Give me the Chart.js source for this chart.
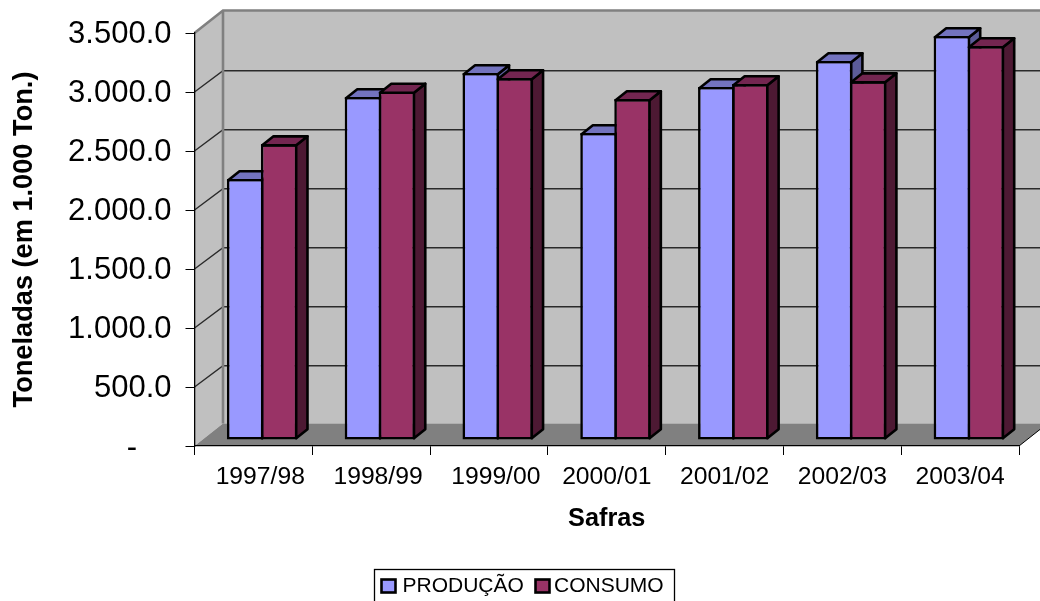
<!DOCTYPE html>
<html>
<head>
<meta charset="utf-8">
<title>Safras</title>
<style>
    html, body { margin: 0; padding: 0; background: #fff; overflow: hidden; }
    canvas { display: block; }
</style>
<script src="https://cdn.jsdelivr.net/npm/chart.js@4/dist/chart.umd.min.js"></script>
</head>
<body>
<canvas id="safrasChart" width="1040" height="601"></canvas>
<script>
(function () {
    'use strict';

    // ── Data ──────────────────────────────────────────────────────────────────
    var categories = ['1997/98', '1998/99', '1999/00', '2000/01', '2001/02', '2002/03', '2003/04'];
    var producao = [2212, 2907, 3110, 2602, 2992, 3212, 3424];
    var consumo = [2508, 2954, 3068, 2890, 3017, 3042, 3339];
    var yTickLabels = ['-    ', '500.0', '1.000.0', '1.500.0', '2.000.0', '2.500.0', '3.000.0', '3.500.0'];

    // ── Perspective of the box and of the columns ─────────────────────────────
    var FONT = '"Liberation Sans", Arial, sans-serif';
    var WALL_DX = 28.5, WALL_DY = 22.5, GRID_DY = 21.3;
    var BAR_SHIFT_X = 8.8, BAR_SHIFT_Y = 6;
    var BAR_DX = 11.3, BAR_DY = 9;
    var BAR_LINE = 2.6;

    function poly(ctx, pts, fill, stroke, width) {
        ctx.beginPath();
        pts.forEach(function (pt, i) {
            if (i === 0) ctx.moveTo(pt[0], pt[1]); else ctx.lineTo(pt[0], pt[1]);
        });
        ctx.closePath();
        if (fill) { ctx.fillStyle = fill; ctx.fill(); }
        if (stroke) { ctx.strokeStyle = stroke; ctx.lineWidth = width; ctx.stroke(); }
    }

    // ── Walls and floor, drawn behind the axes ────────────────────────────────
    var boxPlugin = {
        id: 'box3d',
        beforeDraw: function (chart) {
            var ctx = chart.ctx, a = chart.chartArea, y = chart.scales.y;
            var bx = a.left + WALL_DX, rx = a.right + WALL_DX;
            var topY = a.top - WALL_DY, botY = a.bottom - WALL_DY;

            ctx.save();
            poly(ctx, [[bx, topY], [rx, topY], [rx, botY], [bx, botY]], '#C0C0C0');
            poly(ctx, [[a.left, a.top], [bx, topY], [bx, botY], [a.left, a.bottom]], '#C0C0C0');
            poly(ctx, [[a.left, a.bottom], [a.right, a.bottom], [rx, botY], [bx, botY]], '#808080');

            // gridlines run along the back wall and down the side wall
            y.ticks.forEach(function (t) {
                if (t.value === 0 || t.value === y.max) return;
                var py = y.getPixelForValue(t.value);
                ctx.strokeStyle = '#2A2A2A';
                ctx.lineWidth = 1.4;
                ctx.beginPath();
                ctx.moveTo(a.left, py);
                ctx.lineTo(bx, py - GRID_DY);
                ctx.lineTo(rx, py - GRID_DY);
                ctx.stroke();
            });

            // wall outline
            ctx.strokeStyle = '#808080';
            ctx.lineWidth = 2.6;
            ctx.beginPath();
            ctx.moveTo(a.left, a.top);
            ctx.lineTo(bx, topY);
            ctx.lineTo(rx, topY);
            ctx.moveTo(bx, topY);
            ctx.lineTo(bx, botY);
            ctx.stroke();

            // the right edge of the floor
            ctx.strokeStyle = '#000';
            ctx.lineWidth = 1;
            ctx.beginPath();
            ctx.moveTo(a.right, a.bottom);
            ctx.lineTo(rx, botY);
            ctx.stroke();
            ctx.restore();
        }
    };

    // ── Top and side faces of the columns ─────────────────────────────────────
    function drawFaces(chart, index, topColor, sideColor) {
        var ctx = chart.ctx;
        chart.getDatasetMeta(index).data.forEach(function (bar) {
            var inset = BAR_LINE / 2;
            var l = bar.x - bar.width / 2 + inset, r = bar.x + bar.width / 2 - inset;
            var t = bar.y + inset, b = bar.base - inset;
            ctx.lineJoin = 'round';
            poly(ctx, [[r, t], [r + BAR_DX, t - BAR_DY], [r + BAR_DX, b - BAR_DY], [r, b]], sideColor, '#000', BAR_LINE);
            poly(ctx, [[l, t], [l + BAR_DX, t - BAR_DY], [r + BAR_DX, t - BAR_DY], [r, t]], topColor, '#000', BAR_LINE);
        });
    }

    // first series' faces go under the fronts, second series' faces over them
    var columnPlugin = {
        id: 'column3d',
        beforeDatasetsDraw: function (chart) {
            chart.ctx.save();
            chart.ctx.translate(BAR_SHIFT_X, -BAR_SHIFT_Y);
            drawFaces(chart, 0, '#7373BF', '#5C5C99');
        },
        afterDatasetsDraw: function (chart) {
            drawFaces(chart, 1, '#732650', '#4D1933');
            chart.ctx.restore();
        }
    };

    // ── Legend box, cut by the lower edge of the canvas ───────────────────────
    var legendPlugin = {
        id: 'legendBox',
        afterDraw: function (chart) {
            var ctx = chart.ctx;
            var swatchX = [381.5, 535.5], textX = [402.5, 554];
            ctx.save();
            ctx.strokeStyle = '#000';
            ctx.lineWidth = 1.3;
            ctx.strokeRect(374.5, 569.5, 300, 50);
            ctx.font = '21px ' + FONT;
            ctx.textAlign = 'left';
            ctx.textBaseline = 'alphabetic';
            chart.data.datasets.forEach(function (ds, i) {
                ctx.fillStyle = ds.backgroundColor;
                ctx.fillRect(swatchX[i], 579.5, 14, 13);
                ctx.lineWidth = 2.6;
                ctx.strokeRect(swatchX[i], 579.5, 14, 13);
                ctx.fillStyle = '#000';
                ctx.fillText(ds.label, textX[i], 592);
            });
            ctx.restore();
        }
    };

    // ── Chart ─────────────────────────────────────────────────────────────────
    new Chart(document.getElementById('safrasChart').getContext('2d'), {
        type: 'bar',
        data: {
            labels: categories,
            datasets: [
                { label: 'PRODUÇÃO', data: producao, backgroundColor: '#9999FF', borderColor: '#000', borderWidth: BAR_LINE, borderSkipped: false },
                { label: 'CONSUMO', data: consumo, backgroundColor: '#993366', borderColor: '#000', borderWidth: BAR_LINE, borderSkipped: false }
            ]
        },
        options: {
            responsive: false,
            animation: false,
            layout: { padding: { top: 33, right: 21, left: 0, bottom: 0 } },
            categoryPercentage: 0.5773,
            barPercentage: 1.076,
            plugins: {
                legend: { display: false },
                title: { display: false },
                tooltip: { enabled: false }
            },
            scales: {
                x: {
                    afterFit: function (scale) { scale.height = 155; },
                    grid: { offset: true, drawOnChartArea: false, color: '#000', tickLength: 9, tickWidth: 1 },
                    border: { color: '#000', width: 1.3 },
                    ticks: {
                        color: '#000',
                        font: { family: FONT, size: 24.7 },
                        padding: 7,
                        maxRotation: 0,
                        autoSkip: false,
                        // the first three labels sit a little right of their slot
                        callback: function (value, index) {
                            return (index < 3 ? '  ' : '') + categories[index];
                        }
                    },
                    title: {
                        display: true,
                        text: 'Safras',
                        color: '#000',
                        font: { family: FONT, size: 25.3, weight: 'bold' },
                        padding: { top: 0, bottom: 67 }
                    }
                },
                y: {
                    min: 0,
                    max: 3500,
                    afterFit: function (scale) { scale.width = 194.5; },
                    grid: { drawOnChartArea: false, color: '#000', tickLength: 9, tickWidth: 1 },
                    border: { color: '#000', width: 1.3 },
                    ticks: {
                        stepSize: 500,
                        color: '#000',
                        // an empty first line nudges each label down; the zero dash goes further
                        font: function (ctx) {
                            return { family: FONT, size: 31, lineHeight: ctx.index === 0 ? '5.4px' : '2.6px' };
                        },
                        padding: 14,
                        callback: function (value, index) { return ['', yTickLabels[index]]; }
                    },
                    title: {
                        display: true,
                        text: 'Toneladas (em 1.000 Ton.)',
                        color: '#000',
                        font: { family: FONT, size: 27.2, weight: 'bold' },
                        padding: { top: 8, bottom: 0 }
                    }
                }
            }
        },
        plugins: [boxPlugin, columnPlugin, legendPlugin]
    });
})();
</script>
</body>
</html>
